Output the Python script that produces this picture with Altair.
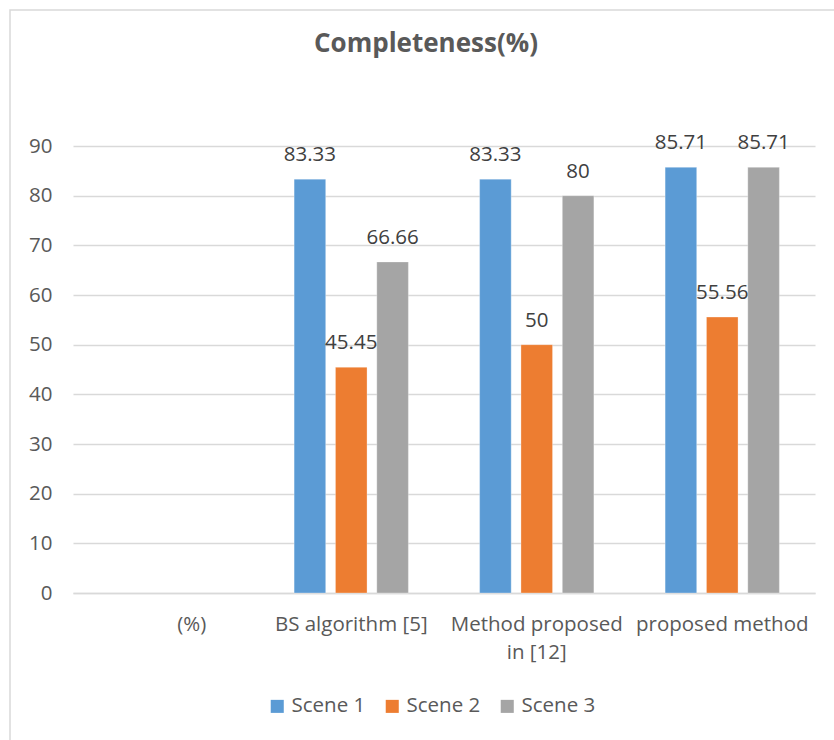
import altair as alt
import pandas as pd

categories = ["(%)", "BS algorithm [5]", "Method proposed in [12]", "proposed method"]
series = ["Scene 1", "Scene 2", "Scene 3"]
colors = ["#5b9bd5", "#ed7d31", "#a5a5a5"]
scene1 = [83.33, 83.33, 85.71]
scene2 = [45.45, 50, 55.56]
scene3 = [66.66, 80, 85.71]
bar_categories = categories[1:]
y_ticks = [0, 10, 20, 30, 40, 50, 60, 70, 80, 90]

rows = []
for s, vals in zip(series, [scene1, scene2, scene3]):
    for c, v in zip(bar_categories, vals):
        rows.append({"category": c, "scene": s, "value": v, "label": f"{v:g}"})
df = pd.DataFrame(rows)

FONT = "Open Sans"
FS = 20.5
W, H = 742, 447
PL, PT = 73, 146

x = alt.X("category:N", scale=alt.Scale(domain=categories, paddingInner=0.384, paddingOuter=0.192),
          sort=categories,
          axis=alt.Axis(title=None, labelAngle=0, labelFontSize=FS, labelColor="#595959", labelFont=FONT,
                        labelPadding=21, ticks=False, domain=True, domainColor="#d9d9d9", domainWidth=1.3,
                        labelLimit=300, labelLineHeight=28,
                        labelOffset={"condition": {"test": "datum.label == '(%)'", "value": 26}, "value": 0},
                        labelExpr="datum.label == 'Method proposed in [12]' ? ['Method proposed', 'in [12]'] : datum.label"))
y = alt.Y("value:Q", scale=alt.Scale(domain=[0, 90]),
          axis=alt.Axis(title=None, values=y_ticks, labelFontSize=FS, labelColor="#595959", labelFont=FONT,
                        labelPadding=21, ticks=False, domain=False, gridColor="#d9d9d9", gridWidth=1.3))
xoff = alt.XOffset("scene:N", scale=alt.Scale(domain=series, paddingInner=0.236, paddingOuter=0))

base = alt.Chart(df)

bars = base.mark_bar(stroke="white", strokeWidth=0.6, strokeOpacity=0.5).encode(
    x=x, y=y, xOffset=xoff,
    color=alt.Color("scene:N", scale=alt.Scale(domain=series, range=colors),
                    legend=alt.Legend(title=None, orient="none", direction="horizontal",
                                      legendX=194, legendY=550, symbolType="square", symbolSize=170,
                                      symbolStrokeWidth=0, labelFontSize=FS, labelColor="#595959",
                                      labelFont=FONT, columnPadding=16, labelOffset=4))
)

labels = base.mark_text(baseline="alphabetic", dy=-18, fontSize=FS, font=FONT, color="#404040").encode(
    x=x, y=y, xOffset=xoff, text="label:N"
)

frame = alt.Chart(pd.DataFrame({"a": [0]})).mark_rect(fill=None, stroke="#d9d9d9", strokeWidth=1.5).encode(
    x=alt.value(10 - PL), x2=alt.value(850 - PL), y=alt.value(10 - PT), y2=alt.value(760 - PT)
)

chart = alt.layer(frame, bars, labels).properties(
    width=W, height=H,
    autosize=alt.AutoSizeParams(type="none"),
    padding={"left": PL, "top": PT, "right": 834 - PL - W, "bottom": 740 - PT - H},
    title=alt.TitleParams("Completeness(%)", fontSize=26, font=FONT, fontWeight="bold", color="#595959",
                          anchor="middle", dx=-18, offset=-69, baseline="alphabetic", frame="group"),
).configure_view(stroke=None)

chart.save("out.html", embed_options={"renderer": "svg", "actions": False})
